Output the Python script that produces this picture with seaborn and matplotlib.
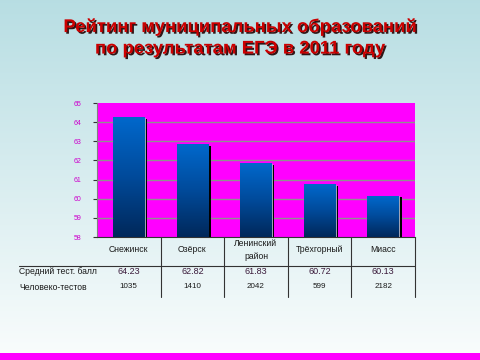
import numpy as np
import pandas as pd
import matplotlib
matplotlib.use("Agg")
import matplotlib.pyplot as plt
import matplotlib.patheffects as pe
from matplotlib.patches import Rectangle
from matplotlib.transforms import blended_transform_factory
import seaborn as sns

title = "Рейтинг муниципальных образований\nпо результатам ЕГЭ в 2011 году"
categories = ["Снежинск", "Озёрск", "Ленинский\nрайон", "Трёхгорный", "Миасс"]
avg_score = [64.23, 62.82, 61.83, 60.72, 60.13]
tests = [1035, 1410, 2042, 599, 2182]
row_labels = ["Средний тест. балл", "Человеко-тестов"]
y_ticks = [58, 59, 60, 61, 62, 63, 64, 65]

df = pd.DataFrame({"cat": categories, "score": avg_score})

sns.set_style("white")
plt.rcParams["font.family"] = ["Liberation Sans", "DejaVu Sans"]

W, H = 480, 360
fig = plt.figure(figsize=(4.8, 3.6), dpi=100)

# background gradient
bg = fig.add_axes([0, 0, 1, 1], zorder=-10)
top = np.array([0.72, 0.87, 0.89])
bot = np.array([0.98, 0.99, 0.99])
t = np.linspace(0, 1, 256)[:, None]
grad = top[None, :] * (1 - t) + bot[None, :] * t
bg.imshow(grad[:, None, :], aspect="auto", extent=[0, 1, 0, 1], origin="upper")
bg.add_patch(Rectangle((0, 0), 1, 7 / H, color="#ff00ff", lw=0))
bg.set_xlim(0, 1); bg.set_ylim(0, 1); bg.axis("off")

# title
fig.text(0.5, 0.895, title, ha="center", va="center", fontsize=13.3, fontweight="bold",
         color="#cc0000", linespacing=1.35,
         path_effects=[pe.SimplePatchShadow(offset=(1.2, -1.2), shadow_rgbFace="#200000", alpha=0.9), pe.Normal()])

x0, x1, y0, y1 = 97, 415, 237, 103
ax = fig.add_axes([x0 / W, 1 - y0 / H, (x1 - x0) / W, (y0 - y1) / H])
ax.set_facecolor("#ff00ff")
sns.barplot(data=df, x="cat", y="score", ax=ax, width=0.5, color="#0055aa", zorder=3)
ymin, ymax = y_ticks[0], y_ticks[-1]
ax.set_ylim(ymin, ymax)
ax.set_xlim(-0.5, len(categories) - 0.5)
ax.set_yticks(y_ticks)
ax.set_yticklabels([str(v) for v in y_ticks], fontsize=5, color="#cc00cc")
ax.tick_params(axis="y", length=3, width=0.8, color="#333333", pad=8, left=True)
ax.tick_params(axis="x", bottom=False, labelbottom=False)
ax.set_xlabel(""); ax.set_ylabel("")
for yv in y_ticks[1:-1]:
    ax.axhline(yv, color="#909090", lw=1.0, zorder=1)
for s in ["top", "right"]:
    ax.spines[s].set_visible(False)
ax.spines["left"].set_color("#808080")
ax.spines["bottom"].set_color("#333333")

cmap = matplotlib.colors.LinearSegmentedColormap.from_list("b", ["#00285a", "#004a9a", "#0068cc"])
gimg = np.linspace(0, 1, 128)[:, None]
dx = 4 / ((x1 - x0) / len(categories))
for p in list(ax.patches):
    bx, by, bw, bh = p.get_x(), p.get_y(), p.get_width(), p.get_height()
    btop = by + bh
    bb = max(by, ymin)
    ax.add_patch(Rectangle((bx + bw, bb), dx * 0.6, btop - bb - 0.05, color="black", zorder=2.5, lw=0))
    ax.imshow(gimg, cmap=cmap, aspect="auto", origin="lower",
              extent=[bx, bx + bw, bb, btop], zorder=3.5)
    p.set_edgecolor("#bbbbcc"); p.set_linewidth(0.6)
ax.set_ylim(ymin, ymax)
ax.set_xlim(-0.5, len(categories) - 0.5)

# table below
tr = blended_transform_factory(ax.transData, fig.transFigure)
def fy(py):
    return 1 - py / H
tc = "#1a1a1a"
for i, c in enumerate(categories):
    ax.text(i, fy(250), c, transform=tr, ha="center", va="center", fontsize=6.2,
            color=tc, linespacing=1.45, clip_on=False)
    ax.text(i, fy(272), f"{avg_score[i]:.2f}", transform=tr, ha="center", va="center",
            fontsize=6.5, color="#3a1a3a", clip_on=False)
    ax.text(i, fy(286), str(tests[i]), transform=tr, ha="center", va="center",
            fontsize=5.8, color=tc, clip_on=False)
for k in range(1, len(categories) + 1):
    ax.plot([k - 0.5, k - 0.5], [fy(237), fy(297)], transform=tr, color="#333333",
            lw=0.8, clip_on=False)
fig.add_artist(plt.Line2D([19 / W, x1 / W], [fy(266), fy(266)], color="#333333", lw=0.8))
fig.text(19 / W, fy(272), row_labels[0], ha="left", va="center", fontsize=6.2, color=tc)
fig.text(19 / W, fy(287), row_labels[1], ha="left", va="center", fontsize=6.2, color=tc)

fig.savefig("out.png", dpi=100)
